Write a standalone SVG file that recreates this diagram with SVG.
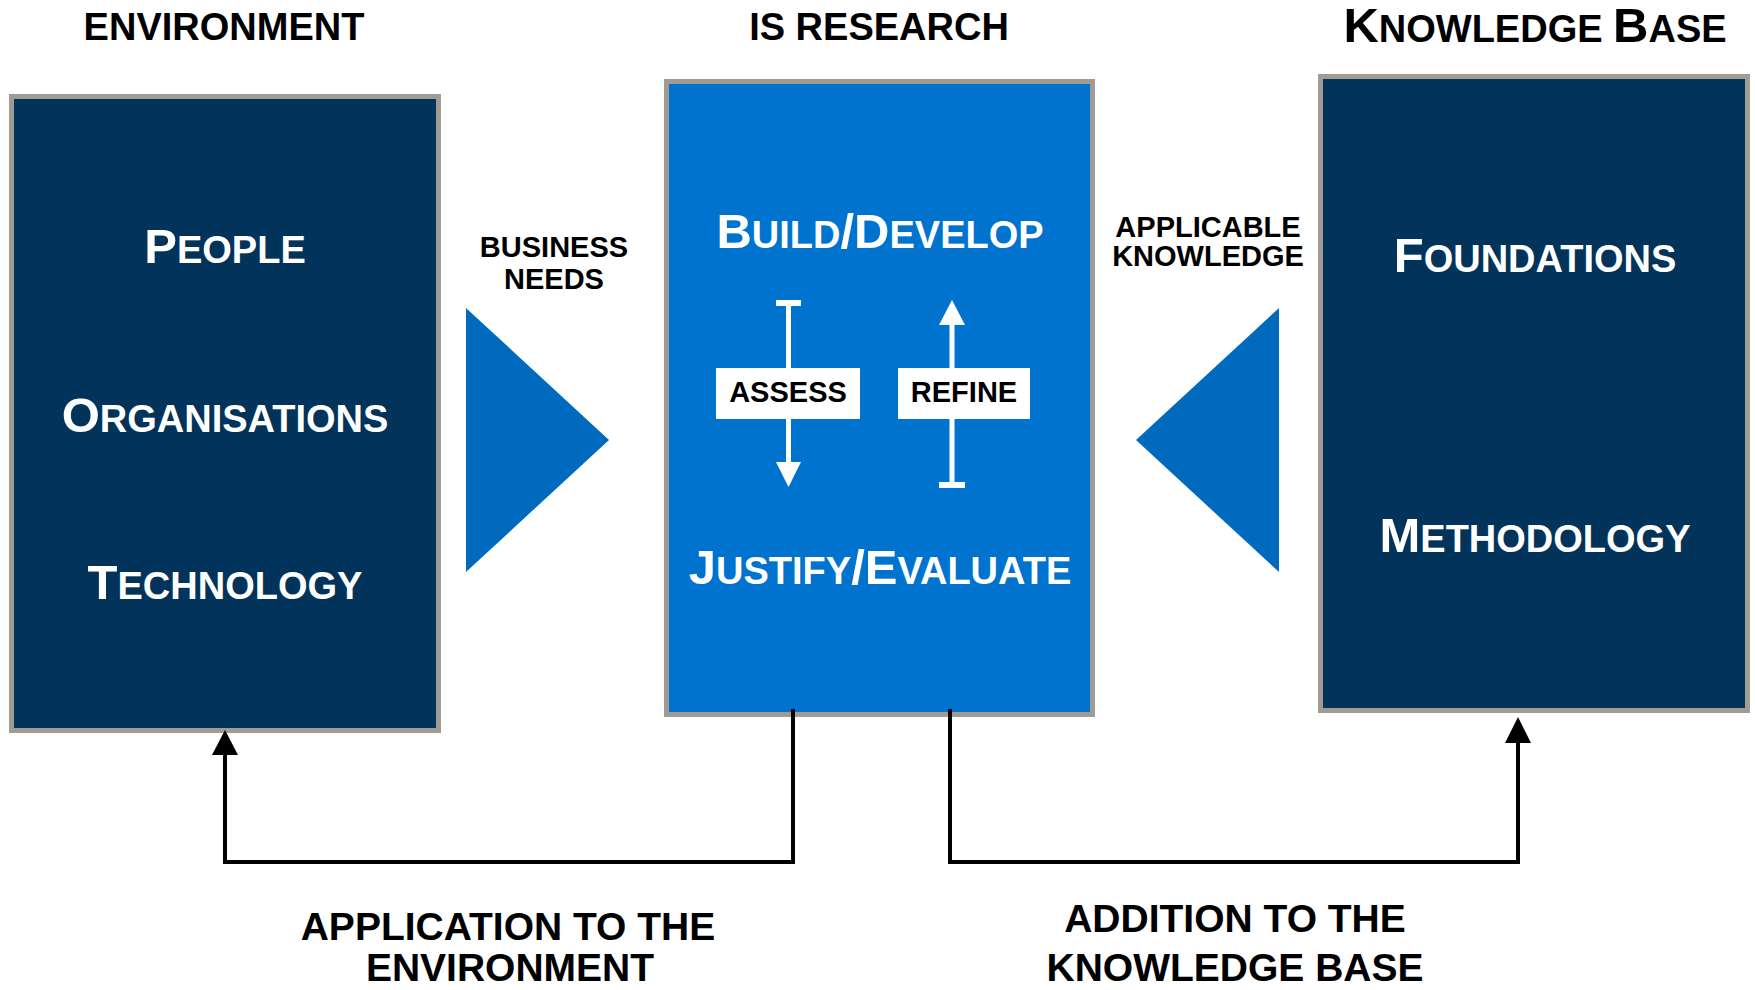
<svg xmlns="http://www.w3.org/2000/svg" width="1755" height="990" viewBox="0 0 1755 990">
<style>
text{font-family:"Liberation Sans",Arial,sans-serif;font-weight:bold;text-anchor:middle}
.t{fill:#000;font-size:38px}
.u{fill:#000;font-size:39px}
.w{fill:#fff}
.b{font-size:49px}
.s{font-size:38px}
.lbl{fill:#000;font-size:29px}
.navy{fill:#02335a;stroke:#a09c93;stroke-width:5}
.blue{fill:#0073cf;stroke:#a09c93;stroke-width:5}
.tri{fill:#006bbe}
.conn{fill:none;stroke:#000;stroke-width:4}
</style>
<rect width="1755" height="990" fill="#fff"/>

<text class="t" x="224" y="40">ENVIRONMENT</text>
<text class="t" x="879" y="40">IS RESEARCH</text>
<text class="t" x="1535" y="42"><tspan class="b">K</tspan><tspan class="s">NOWLEDGE </tspan><tspan class="b">B</tspan><tspan class="s">ASE</tspan></text>

<g id="environment">
<rect class="navy" x="11.5" y="96.5" width="427" height="634"/>
<text class="w" x="225" y="263"><tspan class="b">P</tspan><tspan class="s">EOPLE</tspan></text>
<text class="w" x="225" y="432"><tspan class="b">O</tspan><tspan class="s">RGANISATIONS</tspan></text>
<text class="w" x="225" y="599"><tspan class="b">T</tspan><tspan class="s">ECHNOLOGY</tspan></text>
</g>

<g id="business-needs">
<polygon class="tri" points="466,308 609,440 466,572"/>
<text class="lbl" x="554" y="257">BUSINESS</text>
<text class="lbl" x="554" y="289">NEEDS</text>
</g>

<g id="is-research">
<rect class="blue" x="666.5" y="81.5" width="426" height="633"/>
<text class="w" x="880" y="248"><tspan class="b">B</tspan><tspan class="s">UILD</tspan><tspan class="b">/D</tspan><tspan class="s">EVELOP</tspan></text>
<text class="w" x="880" y="584"><tspan class="b">J</tspan><tspan class="s">USTIFY</tspan><tspan class="b">/E</tspan><tspan class="s">VALUATE</tspan></text>
<g id="assess">
<rect x="776" y="300" width="25" height="6" fill="#fff"/>
<line x1="788.5" y1="303" x2="788.5" y2="464" stroke="#fff" stroke-width="5"/>
<polygon points="776,462 801,462 788.5,487" fill="#fff"/>
<rect x="716" y="368" width="144" height="51" fill="#fff"/>
<text x="788" y="402" style="font-size:29px;fill:#000">ASSESS</text>
</g>
<g id="refine">
<rect x="939" y="482" width="26" height="6" fill="#fff"/>
<line x1="952" y1="485" x2="952" y2="323" stroke="#fff" stroke-width="5"/>
<polygon points="939,325 965,325 952,300" fill="#fff"/>
<rect x="898" y="368" width="132" height="51" fill="#fff"/>
<text x="964" y="402" style="font-size:29px;fill:#000">REFINE</text>
</g>
</g>

<g id="applicable-knowledge">
<polygon class="tri" points="1279,308 1136,440 1279,572"/>
<text class="lbl" x="1208" y="237">APPLICABLE</text>
<text class="lbl" x="1208" y="266">KNOWLEDGE</text>
</g>

<g id="knowledge-base">
<rect class="navy" x="1320.5" y="76.5" width="427" height="634"/>
<text class="w" x="1535" y="272"><tspan class="b">F</tspan><tspan class="s">OUNDATIONS</tspan></text>
<text class="w" x="1535" y="552"><tspan class="b">M</tspan><tspan class="s">ETHODOLOGY</tspan></text>
</g>

<g id="connectors">
<path class="conn" d="M793,709 V862 H225 V752"/>
<polygon points="212,755 238,755 225,730" fill="#000"/>
<path class="conn" d="M950,709 V862 H1518 V740"/>
<polygon points="1505,743 1531,743 1518,717" fill="#000"/>
</g>

<text class="u" x="508" y="940">APPLICATION TO THE</text>
<text class="u" x="510" y="981">ENVIRONMENT</text>
<text class="u" x="1235" y="932">ADDITION TO THE</text>
<text class="u" x="1235" y="981">KNOWLEDGE BASE</text>
</svg>
